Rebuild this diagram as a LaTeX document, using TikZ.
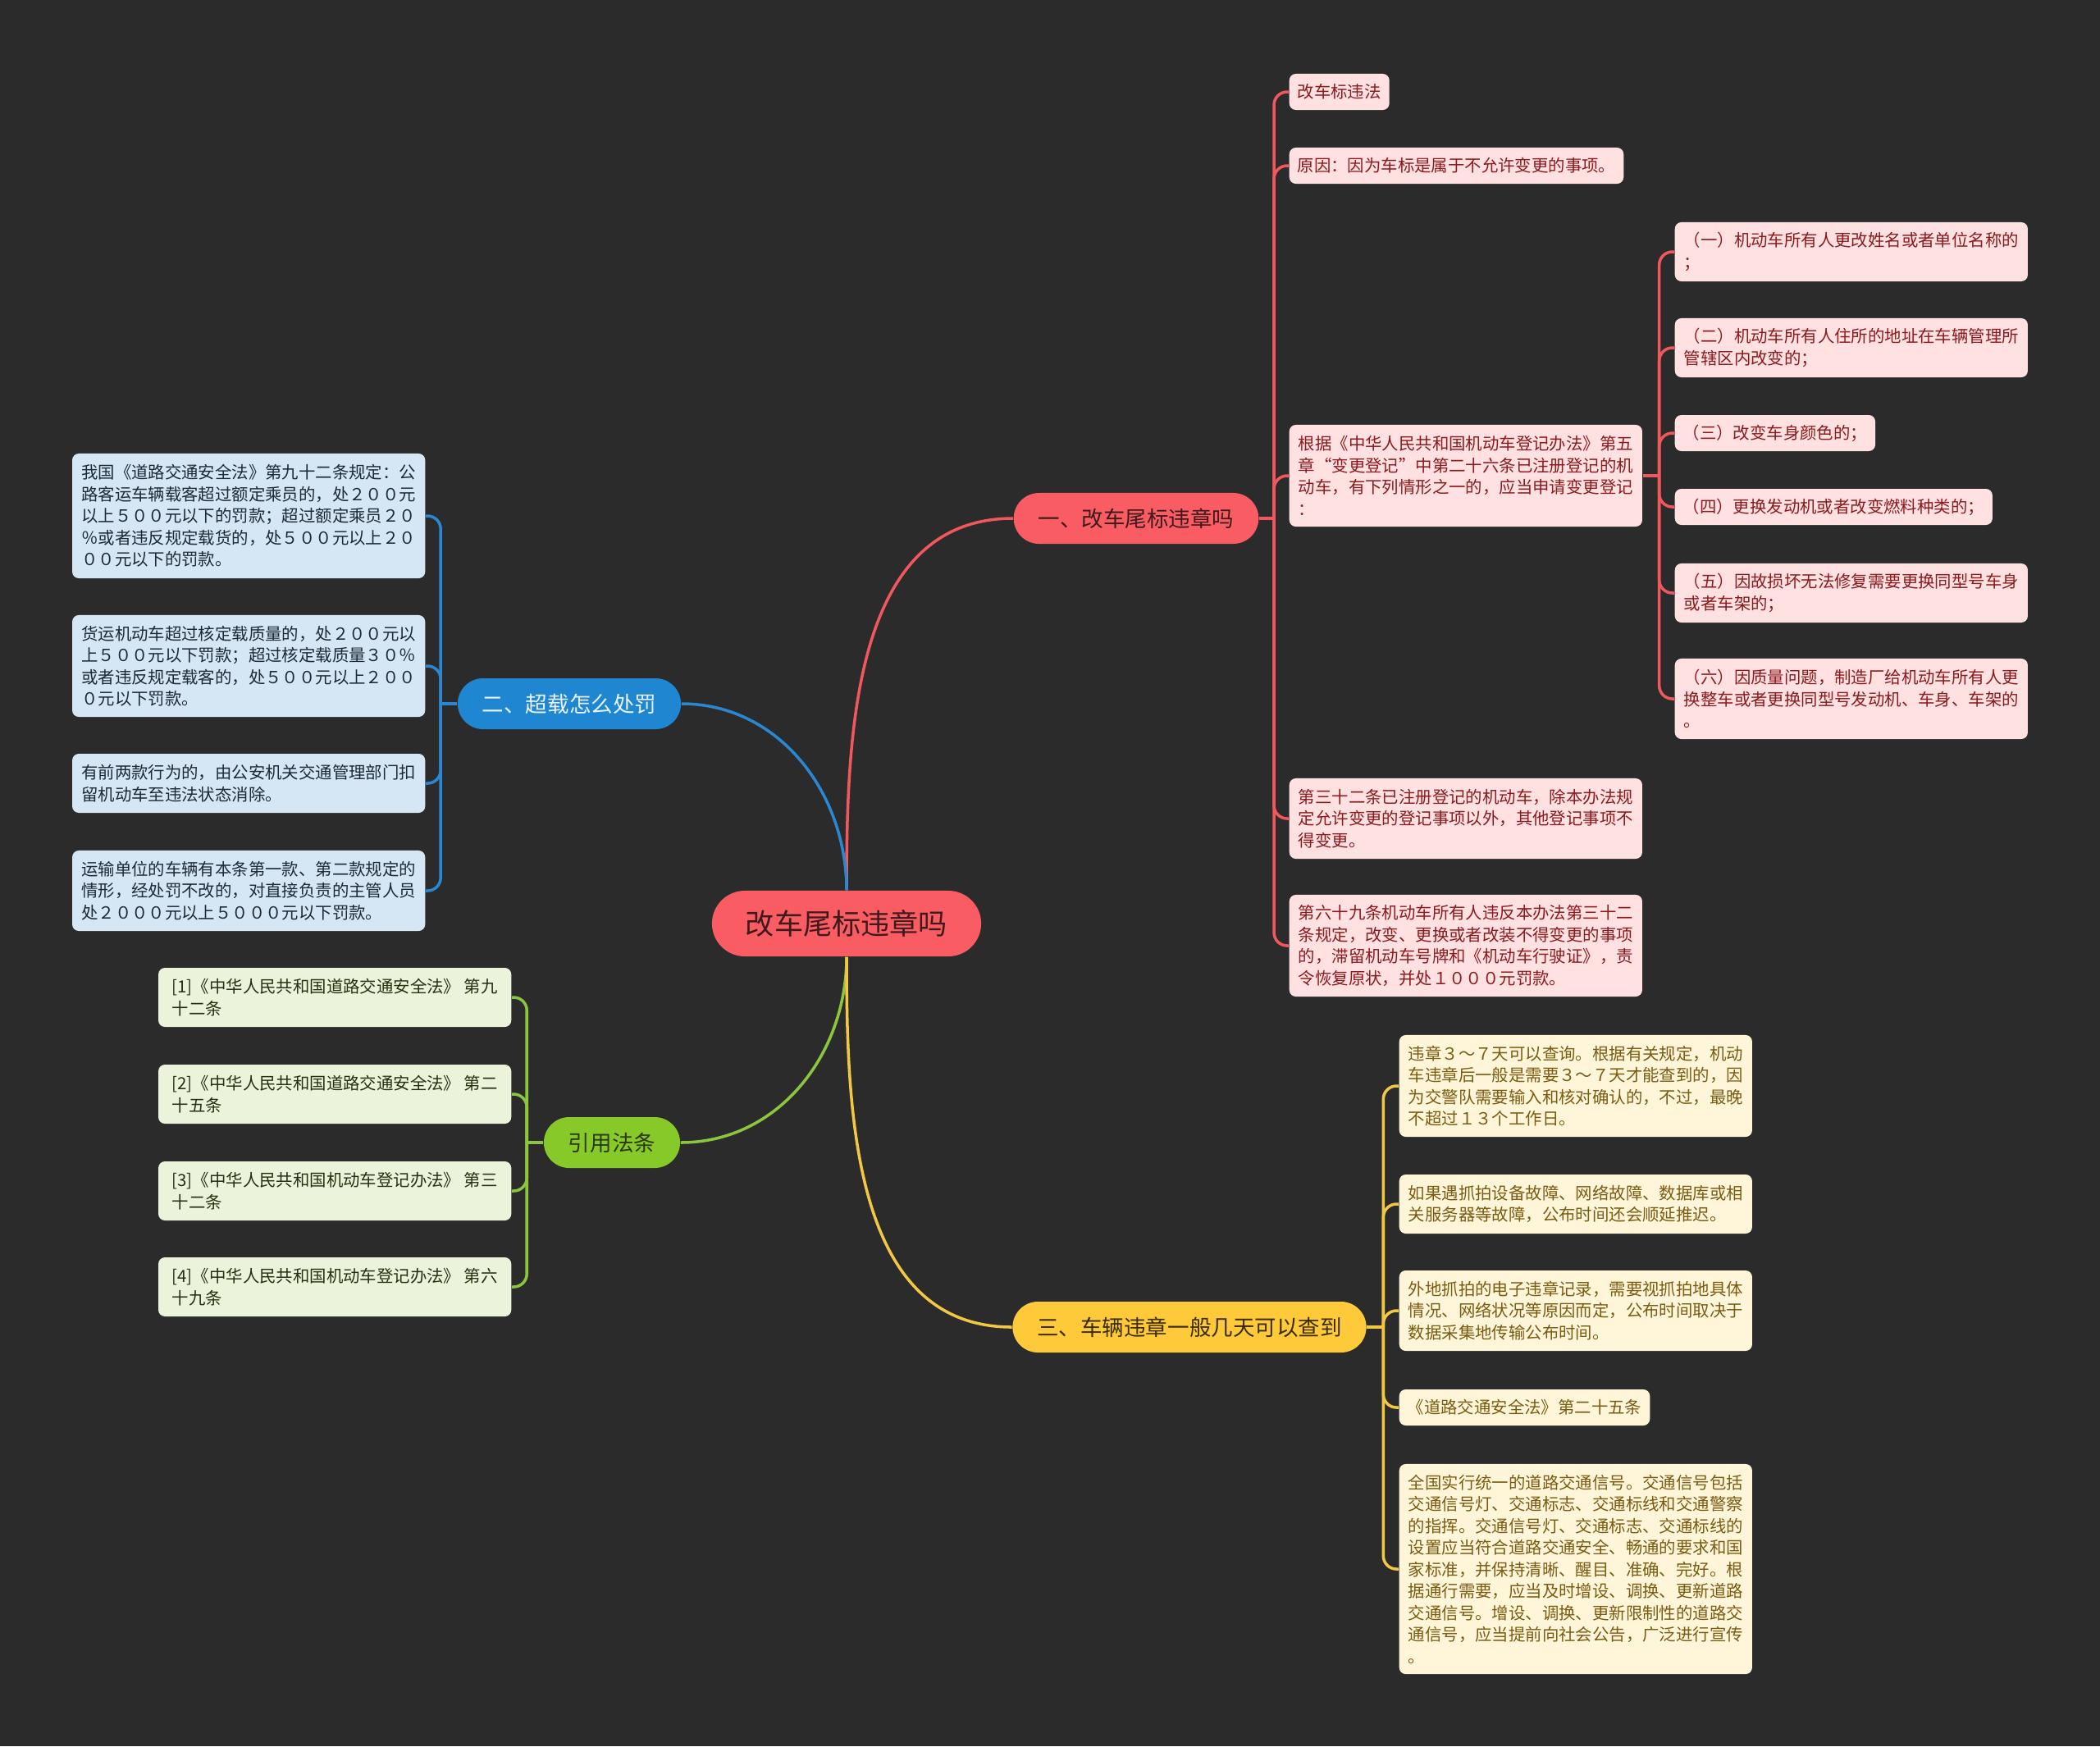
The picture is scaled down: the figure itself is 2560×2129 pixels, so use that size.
\documentclass[tikz,border=0pt]{standalone}
\usepackage{fontspec}
\setmainfont{Noto Sans CJK SC}
\usetikzlibrary{calc}
\definecolor{bgc}{HTML}{2B2B2B}
\definecolor{redm}{HTML}{F95C62}
\definecolor{redtxt}{HTML}{3E1A1C}
\definecolor{redline}{HTML}{F0585E}
\definecolor{pinkfill}{HTML}{FFE1E1}
\definecolor{pinktxt}{HTML}{8A1A1E}
\definecolor{bluem}{HTML}{1F87D1}
\definecolor{bluetxt}{HTML}{EAF3FB}
\definecolor{blueline}{HTML}{2A88D2}
\definecolor{bluefill}{HTML}{D5E7F5}
\definecolor{blueleaftxt}{HTML}{1D2A36}
\definecolor{greenm}{HTML}{88C92A}
\definecolor{greentxt}{HTML}{2A3A0E}
\definecolor{greenline}{HTML}{8CC63F}
\definecolor{greenfill}{HTML}{EBF3DA}
\definecolor{greenleaftxt}{HTML}{25300F}
\definecolor{yellowm}{HTML}{FFCA3A}
\definecolor{yellowtxt}{HTML}{3A2C00}
\definecolor{yellowline}{HTML}{F2C744}
\definecolor{yellowfill}{HTML}{FFF6D9}
\definecolor{yellowleaftxt}{HTML}{7A5B12}
\newcommand\leaffont{\fontsize{5.8pt}{7.54pt}\selectfont}
\newcommand\branchfont{\fontsize{7.54pt}{9pt}\selectfont}
\newcommand\rootfont{\fontsize{10pt}{12pt}\selectfont}
\begin{document}
\begin{tikzpicture}[x=0.01cm,y=-0.01cm,
  leaf/.style={rounded corners=0.08cm, inner xsep=0.1cm, inner ysep=0pt, align=left, font=\leaffont},
  wide/.style={minimum width=4.3cm},
  lnA/.style={minimum height=0.44cm},
  lnB/.style={minimum height=0.72cm},
  lnC/.style={minimum height=0.98cm},
  lnD/.style={minimum height=1.24cm},
  lnE/.style={minimum height=1.52cm},
  lnI/.style={minimum height=2.56cm},
  pinkleaf/.style={leaf, fill=pinkfill, text=pinktxt, anchor=west},
  blueleaf/.style={leaf, fill=bluefill, text=blueleaftxt, anchor=east, wide},
  greenleaf/.style={leaf, fill=greenfill, text=greenleaftxt, anchor=east, wide, lnB},
  yellowleaf/.style={leaf, fill=yellowfill, text=yellowleaftxt, anchor=west},
  branch/.style={rounded corners=0.31cm, minimum height=0.62cm, inner xsep=0.3cm, inner ysep=0pt, font=\branchfont},
  rootnode/.style={rounded corners=0.4cm, minimum height=0.8cm, inner xsep=0.41cm, inner ysep=0pt, font=\rootfont, fill=redm, text=redtxt},
  conn/.style={line width=1pt},
  elbow/.style={line width=1pt, rounded corners=0.16cm}
]
\fill[bgc] (0,0) rectangle (2560,2129);

% root and branches
\node[rootnode] (C) at (1032,1126) {改车尾标违章吗};
\node[branch, fill=redm, text=redtxt] (R1) at (1385,632) {一、改车尾标违章吗};
\node[branch, fill=bluem, text=bluetxt] (B) at (694,858) {二、超载怎么处罚};
\node[branch, fill=greenm, text=greentxt] (G) at (746,1393) {引用法条};
\node[branch, fill=yellowm, text=yellowtxt] (Y) at (1450,1618) {三、车辆违章一般几天可以查到};

% branch 1 leaves
\node[pinkleaf, lnA] (L1) at (1571,112) {改车标违法};
\node[pinkleaf, lnA] (L2) at (1571,202) {原因：因为车标是属于不允许变更的事项。};
\node[pinkleaf, lnD, wide] (L3) at (1571,580) {根据《中华人民共和国机动车登记办法》第五\\章“变更登记”中第二十六条已注册登记的机\\动车，有下列情形之一的，应当申请变更登记\\：};
\node[pinkleaf, lnC, wide] (L4) at (1571,998) {第三十二条已注册登记的机动车，除本办法规\\定允许变更的登记事项以外，其他登记事项不\\得变更。};
\node[pinkleaf, lnD, wide] (L5) at (1571,1153) {第六十九条机动车所有人违反本办法第三十二\\条规定，改变、更换或者改装不得变更的事项\\的，滞留机动车号牌和《机动车行驶证》，责\\令恢复原状，并处１０００元罚款。};

\node[pinkleaf, lnB, wide] (S1) at (2041,307) {（一）机动车所有人更改姓名或者单位名称的\\；};
\node[pinkleaf, lnB, wide] (S2) at (2041,424) {（二）机动车所有人住所的地址在车辆管理所\\管辖区内改变的；};
\node[pinkleaf, lnA] (S3) at (2041,528) {（三）改变车身颜色的；};
\node[pinkleaf, lnA] (S4) at (2041,618) {（四）更换发动机或者改变燃料种类的；};
\node[pinkleaf, lnB, wide] (S5) at (2041,723) {（五）因故损坏无法修复需要更换同型号车身\\或者车架的；};
\node[pinkleaf, lnC, wide] (S6) at (2041,852) {（六）因质量问题，制造厂给机动车所有人更\\换整车或者更换同型号发动机、车身、车架的\\。};

% branch 2 leaves
\node[blueleaf, lnE] (B1) at (519,629) {我国《道路交通安全法》第九十二条规定：公\\路客运车辆载客超过额定乘员的，处２００元\\以上５００元以下的罚款；超过额定乘员２０\\％或者违反规定载货的，处５００元以上２０\\００元以下的罚款。};
\node[blueleaf, lnD] (B2) at (519,812) {货运机动车超过核定载质量的，处２００元以\\上５００元以下罚款；超过核定载质量３０％\\或者违反规定载客的，处５００元以上２００\\０元以下罚款。};
\node[blueleaf, lnB] (B3) at (519,955) {有前两款行为的，由公安机关交通管理部门扣\\留机动车至违法状态消除。};
\node[blueleaf, lnC] (B4) at (519,1086) {运输单位的车辆有本条第一款、第二款规定的\\情形，经处罚不改的，对直接负责的主管人员\\处２０００元以上５０００元以下罚款。};

% cited laws
\node[greenleaf] (G1) at (624,1216) {[1]《中华人民共和国道路交通安全法》 第九\\十二条};
\node[greenleaf] (G2) at (624,1334) {[2]《中华人民共和国道路交通安全法》 第二\\十五条};
\node[greenleaf] (G3) at (624,1452) {[3]《中华人民共和国机动车登记办法》 第三\\十二条};
\node[greenleaf] (G4) at (624,1569) {[4]《中华人民共和国机动车登记办法》 第六\\十九条};

% branch 3 leaves
\node[yellowleaf, lnD, wide] (Y1) at (1705,1324) {违章３～７天可以查询。根据有关规定，机动\\车违章后一般是需要３～７天才能查到的，因\\为交警队需要输入和核对确认的，不过，最晚\\不超过１３个工作日。};
\node[yellowleaf, lnB, wide] (Y2) at (1705,1468) {如果遇抓拍设备故障、网络故障、数据库或相\\关服务器等故障，公布时间还会顺延推迟。};
\node[yellowleaf, lnC, wide] (Y3) at (1705,1598) {外地抓拍的电子违章记录，需要视抓拍地具体\\情况、网络状况等原因而定，公布时间取决于\\数据采集地传输公布时间。};
\node[yellowleaf, lnA] (Y4) at (1705,1716) {《道路交通安全法》第二十五条};
\node[yellowleaf, lnI, wide] (Y5) at (1705,1913) {全国实行统一的道路交通信号。交通信号包括\\交通信号灯、交通标志、交通标线和交通警察\\的指挥。交通信号灯、交通标志、交通标线的\\设置应当符合道路交通安全、畅通的要求和国\\家标准，并保持清晰、醒目、准确、完好。根\\据通行需要，应当及时增设、调换、更新道路\\交通信号。增设、调换、更新限制性的道路交\\通信号，应当提前向社会公告，广泛进行宣传\\。};

% main connectors
\draw[conn, redline] (C.north) to[out=90,in=180] (R1.west);
\draw[conn, blueline] (C.north) to[out=90,in=0] (B.east);
\draw[conn, greenline] (C.south) to[out=-90,in=0] (G.east);
\draw[conn, yellowline] (C.south) to[out=-90,in=180] (Y.west);

% junctions
\coordinate (jR) at ($(R1.east)+(18,0)$);
\coordinate (jL) at ($(L3.east)+(20,0)$);
\coordinate (jB) at ($(B.west)+(-20,0)$);
\coordinate (jG) at ($(G.west)+(-20,0)$);
\coordinate (jY) at ($(Y.east)+(20,0)$);

\draw[conn, redline] (R1.east) -- (jR);
\foreach \n in {L1,L2,L3,L4,L5} \draw[elbow, redline] (jR) |- (\n.west);
\draw[conn, redline] (L3.east) -- (jL);
\foreach \n in {S1,S2,S3,S4,S5,S6} \draw[elbow, redline] (jL) |- (\n.west);
\draw[conn, blueline] (B.west) -- (jB);
\foreach \n in {B1,B2,B3,B4} \draw[elbow, blueline] (jB) |- (\n.east);
\draw[conn, greenline] (G.west) -- (jG);
\foreach \n in {G1,G2,G3,G4} \draw[elbow, greenline] (jG) |- (\n.east);
\draw[conn, yellowline] (Y.east) -- (jY);
\foreach \n in {Y1,Y2,Y3,Y4,Y5} \draw[elbow, yellowline] (jY) |- (\n.west);
\end{tikzpicture}
\end{document}
